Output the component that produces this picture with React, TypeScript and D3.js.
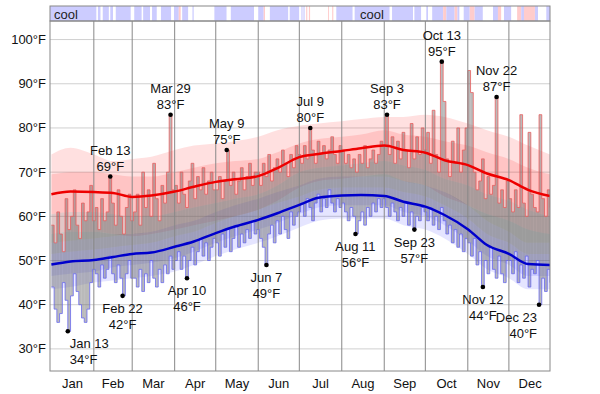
import React from "react";
import * as d3 from "d3";

const W = 600;
const H = 394;
const left = 50;
const right = 550;
const top = 21;
const bottom = 371;

const months = ["Jan", "Feb", "Mar", "Apr", "May", "Jun", "Jul", "Aug", "Sep", "Oct", "Nov", "Dec"];
const monthStarts = [0, 31, 59, 90, 120, 151, 181, 212, 243, 273, 304, 334];
const yTicks = [30, 40, 50, 60, 70, 80, 90, 100];

// daily highs / lows, 2-day bins (183 bins)
const highs = [
  // Jan
  58, 54, 61, 56, 52, 64, 57, 60, 66, 58, 55, 63, 59, 61, 67, 59,
  // Feb
  62, 57, 64, 59, 61, 69, 63, 58, 66, 60, 56, 62, 65, 59,
  // Mar
  61, 65, 58, 70, 62, 66, 60, 72, 64, 59, 67, 63, 70, 83, 66,
  // Apr
  67, 63, 70, 65, 62, 68, 72, 64, 69, 66, 71, 65, 68, 70, 66,
  // May
  66, 69, 64, 68, 75, 67, 70, 65, 68, 71, 66, 69, 72, 67, 70,
  // Jun
  70, 67, 72, 69, 74, 68, 71, 73, 70, 75, 72, 69, 74, 71, 76,
  // Jul
  74, 72, 76, 73, 80, 75, 72, 77, 74, 76, 73, 75, 78, 74, 72, 76,
  // Aug
  75, 72, 74, 71, 73, 70, 74, 72, 76, 71, 73, 75, 72, 74, 77,
  // Sep
  76, 83, 74, 78, 72, 77, 73, 79, 75, 71, 81, 73, 78, 74, 80,
  // Oct
  75, 79, 72, 84, 74, 70, 95, 86, 73, 69, 77, 72, 80, 70, 75, 80,
  // Nov
  93, 88, 70, 66, 68, 73, 64, 69, 65, 67, 87, 63, 66, 62, 68,
  // Dec
  64, 61, 66, 62, 83, 63, 60, 79, 65, 62, 61, 83, 64, 60, 66, 62,
];
const lows = [
  // Jan
  44, 39, 36, 38, 45, 41, 34, 42, 47, 43, 40, 37, 36, 39, 45, 48,
  // Feb
  47, 44, 49, 46, 48, 51, 47, 45, 49, 46, 42, 47, 50, 46,
  // Mar
  46, 44, 48, 43, 47, 45, 50, 46, 44, 48, 45, 49, 47, 51, 48,
  // Apr
  50, 52, 48, 51, 46, 50, 53, 49, 52, 55, 51, 54, 50, 53, 55,
  // May
  54, 51, 56, 53, 57, 52, 55, 58, 53, 56, 54, 57, 55, 59, 56,
  // Jun
  57, 55, 53, 49, 56, 58, 54, 59, 56, 60, 57, 55, 61, 58, 60,
  // Jul
  61, 63, 60, 64, 62, 59, 63, 65, 61, 64, 62, 66, 63, 61, 64, 62,
  // Aug
  63, 61, 59, 62, 60, 56, 59, 61, 58, 62, 60, 63, 61, 64, 62,
  // Sep
  64, 62, 60, 63, 61, 59, 62, 60, 63, 58, 61, 57, 60, 59, 62,
  // Oct
  61, 59, 62, 58, 60, 57, 62, 59, 56, 58, 54, 57, 53, 56, 52, 55,
  // Nov
  54, 51, 55, 49, 52, 44, 50, 47, 53, 48, 46, 51, 47, 45, 50,
  // Dec
  50, 47, 52, 45, 49, 46, 51, 44, 48, 47, 50, 40, 46, 43, 48, 45,
];

// normals, sampled on the 1st / 15th of each month
const normDays = [0, 14, 31, 45, 59, 73, 90, 104, 120, 134, 151, 165, 181, 195, 212, 226, 243, 257, 273, 287, 304, 318, 334, 348, 364];
const meanHigh = [65.0, 65.6, 65.5, 65.3, 64.4, 64.7, 65.6, 66.7, 67.8, 68.4, 69.1, 70.9, 73.4, 74.1, 74.8, 75.4, 76.0, 75.0, 74.4, 72.7, 71.6, 69.7, 68.2, 66.0, 64.6];
const highP90 = [74, 75.5, 74, 72.5, 73, 73.5, 75, 76, 76.5, 77, 78, 79.5, 80.5, 81, 81.5, 82, 82.5, 82.5, 83, 82.5, 81, 79.5, 78, 76, 74];
const highP75 = [69.5, 70, 70, 69.5, 69, 69, 70, 71, 72, 72.5, 73, 74.5, 76.5, 77.5, 78, 78.5, 79.5, 78.5, 78, 77, 76, 74.5, 73, 71, 69.5];
const highP25 = [60.5, 61, 61, 60.5, 60, 60, 61, 62, 63, 64, 65, 67, 70, 71, 71.5, 72, 72.5, 71.5, 70.5, 68.5, 67, 65, 63.5, 61.5, 60];
const highP10 = [56, 56.5, 56.5, 56, 55.5, 56, 57, 58, 59, 60, 61.5, 63.5, 66.5, 68, 68.5, 69, 69.5, 68, 67, 64.5, 62.5, 60.5, 59, 57, 56];
const meanLow = [49.1, 49.8, 50.1, 50.8, 51.5, 51.8, 53.1, 54.3, 56.2, 57.7, 59.2, 60.7, 62.6, 64.2, 64.7, 64.8, 64.6, 63.3, 62.2, 60.3, 57.1, 53.5, 51.5, 49.2, 49.0];
const lowP90 = [54, 54.5, 55, 55.5, 56, 56.5, 58, 59, 61, 62.5, 64, 65.5, 67, 68.5, 69, 69, 69, 68, 67, 65.5, 62.5, 59, 56.5, 54, 54];
const lowP75 = [51.5, 52, 52.5, 53, 53.5, 54, 55.5, 56.5, 58.5, 60, 61.5, 63, 64.5, 66, 66.5, 66.5, 66.5, 65.5, 64.5, 62.5, 59.5, 56, 54, 51.5, 51.5];
const lowP25 = [46.5, 47, 47.5, 48.5, 49, 49.5, 50.5, 52, 54, 55.5, 57, 58.5, 60.5, 62, 62.5, 62.5, 62.5, 61, 60, 58, 54.5, 51, 49, 46.5, 46.5];
const lowP10 = [43.5, 44, 45, 45.5, 46, 46.5, 47.5, 49, 51, 52.5, 54, 55.5, 57.5, 59, 59.5, 59.5, 59.5, 58, 57, 55, 51.5, 48, 46, 43.5, 43.5];

// records
const recordLabels = ["Jan 13", "Feb 13", "Feb 22", "Mar 29", "Apr 10", "May 9", "Jun 7", "Jul 9", "Aug 11", "Sep 3", "Sep 23", "Oct 13", "Nov 12", "Nov 22", "Dec 23"];
const recordDays = [12, 43, 52, 87, 99, 128, 157, 189, 222, 245, 265, 285, 315, 325, 356];
const recordTemps = [34, 69, 42, 83, 46, 75, 49, 80, 56, 83, 57, 95, 44, 87, 40];
const recordKinds = ["low", "high", "low", "high", "low", "high", "low", "high", "low", "high", "low", "high", "low", "high", "low"];

// comfort strip runs (start day, kind)
const stripStarts = [0, 33, 34, 36, 37.5, 42, 43, 45, 47, 58, 60.5, 66, 67, 72, 73.5, 77, 80, 87.5, 89.5, 93, 94.5, 95.5, 100, 103, 104, 119, 128, 131, 148, 151, 155, 156, 159.5, 173, 174, 181, 182.5, 183.5, 184, 185, 186, 187, 188, 189, 202, 202.7, 205, 206, 208, 220, 221.4, 247, 248.7, 264, 265, 270, 273.7, 275, 278, 286, 288.3, 294.4, 296.4, 298, 301, 305.4, 309, 315, 322.4, 326, 328.5, 330.4, 335.8, 340, 343, 345, 353, 355.3, 361.3];
const stripKinds = ["cool", "ok", "cool", "ok", "cool", "ok", "cool", "ok", "cool", "ok", "cool", "ok", "cool", "ok", "cool", "ok", "cool", "ok", "cool", "warm", "ok", "cool", "ok", "cool", "ok", "cool", "ok", "cool", "ok", "cool", "warm", "ok", "cool", "ok", "cool", "ok", "cool", "ok", "cool", "ok", "warm", "ok", "warm", "ok", "warm", "ok", "warm", "ok", "cool", "ok", "cool", "ok", "cool", "ok", "cool", "ok", "cool", "ok", "cool", "warm", "cool", "warm", "cool", "ok", "cool", "warm", "cool", "ok", "cool", "warm", "ok", "cool", "ok", "warm", "cool", "warm", "cool", "ok", "cool"];
const stripLabelDays = [3, 234];

const font = "'Liberation Sans', Arial, Helvetica, sans-serif";

export default function App() {
  const x = d3.scaleLinear().domain([-1, 364]).range([left, right]);
  const y = d3.scaleLinear().domain([25, 104.2]).range([bottom, top]);

  const band = (lo: number[], hi: number[]) =>
    d3.area<number>()
      .x((d) => x(d))
      .y0((d, i) => y(lo[i]))
      .y1((d, i) => y(Math.max(hi[i], lo[i])))
      .curve(d3.curveMonotoneX)(normDays) || "";
  const meanLine = (vals: number[]) =>
    d3.line<number>()
      .x((d) => x(d))
      .y((d, i) => y(vals[i]))
      .curve(d3.curveMonotoneX)(normDays) || "";
  const stepLine = (vals: number[]) => {
    const pts: [number, number][] = vals.map((v, i) => [x(i * 2), y(v)]);
    pts.push([x(vals.length * 2), y(vals[vals.length - 1])]);
    return d3.line().curve(d3.curveStepAfter)(pts) || "";
  };
  const stripColor: Record<string, string> = { cool: "#ccccff", ok: "#ffffff", warm: "#ffcccc" };

  return (
    <svg width={W} height={H} style={{ position: "absolute", left: 0, top: 0, background: "#fff" }} fontFamily={font}>
      <defs>
        <clipPath id="plot">
          <rect x={left} y={top} width={right - left} height={bottom - top} />
        </clipPath>
      </defs>

      {/* comfort strip */}
      <g>
        {stripStarts.map((s, i) => {
          const x0 = i === 0 ? left : x(s);
          const x1 = i === stripStarts.length - 1 ? right : x(stripStarts[i + 1]);
          return <rect key={i} x={x0} y={6} width={Math.max(0, x1 - x0)} height={15} fill={stripColor[stripKinds[i]]} />;
        })}
        <rect x={left} y={6} width={right - left} height={15} fill="none" stroke="#888" />
        {stripLabelDays.map((d, i) => (
          <text key={i} x={i === 0 ? left + 4 : x(d)} y={18.5} fontSize={13} textAnchor={i === 0 ? "start" : "middle"} fill="#222">cool</text>
        ))}
      </g>

      {/* horizontal grid */}
      {yTicks.map((t) => (
        <line key={t} x1={left} x2={right} y1={y(t)} y2={y(t)} stroke="#d0d0d0" />
      ))}

      <g clipPath="url(#plot)">
        <path d={band(highP10, highP90)} fill="rgba(255,0,0,0.12)" />
        <path d={band(highP25, highP75)} fill="rgba(255,0,0,0.12)" />
        <path d={band(lowP10, lowP90)} fill="rgba(0,0,255,0.10)" />
        <path d={band(lowP25, lowP75)} fill="rgba(0,0,255,0.10)" />
        <path d={band(lowP75, highP25)} fill="rgba(90,90,90,0.18)" />
        <path d={band(lowP90, highP10)} fill="rgba(90,90,90,0.18)" />

        {highs.map((h, i) => (
          <rect key={i} x={x(i * 2)} y={y(h)} width={x(i * 2 + 2) - x(i * 2)} height={y(lows[i]) - y(h)} fill="#666" opacity={0.45} />
        ))}
        <path d={stepLine(highs)} fill="none" stroke="rgb(235,90,90)" strokeOpacity={0.75} strokeWidth={1} />
        <path d={stepLine(lows)} fill="none" stroke="rgb(100,100,240)" strokeOpacity={0.75} strokeWidth={1} />
      </g>

      {/* month lines */}
      {monthStarts.slice(1).map((d) => (
        <line key={d} x1={x(d)} x2={x(d)} y1={top} y2={bottom} stroke="#888" />
      ))}

      <g clipPath="url(#plot)">
        <path d={meanLine(meanHigh)} fill="none" stroke="#ee0000" strokeWidth={2.5} />
        <path d={meanLine(meanLow)} fill="none" stroke="#0000cc" strokeWidth={2.5} />
      </g>

      <rect x={left} y={top} width={right - left} height={bottom - top} fill="none" stroke="#888" />

      {/* y ticks */}
      {yTicks.map((t) => (
        <text key={t} x={46} y={y(t)} dy="0.35em" fontSize={13} textAnchor="end" fill="#111">{t}°F</text>
      ))}
      {/* months */}
      {months.map((m, i) => {
        const a = x(monthStarts[i]);
        const b = i < 11 ? x(monthStarts[i + 1]) : x(365);
        return <text key={m} x={(a + b) / 2} y={388} fontSize={13} textAnchor="middle" fill="#111">{m}</text>;
      })}

      {/* records */}
      {recordDays.map((d, i) => {
        const cx = x(d);
        const cy = y(recordTemps[i]);
        let anchor = "middle";
        let tx = cx;
        if (cx - 20 < left) { anchor = "start"; tx = cx + 2; }
        if (cx + 20 > right) { anchor = "end"; tx = cx - 2; }
        const isHigh = recordKinds[i] === "high";
        return (
          <g key={i}>
            <circle cx={cx} cy={cy} r={2.3} fill="#000" />
            <text x={tx} y={isHigh ? cy - 22 : cy + 17} fontSize={13} textAnchor={anchor} fill="#111">{recordLabels[i]}</text>
            <text x={tx} y={isHigh ? cy - 6 : cy + 33} fontSize={13} textAnchor={anchor} fill="#111">{recordTemps[i]}°F</text>
          </g>
        );
      })}
    </svg>
  );
}
